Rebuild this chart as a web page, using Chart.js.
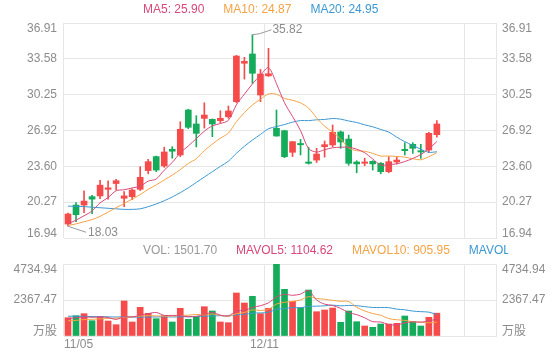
<!DOCTYPE html>
<html>
<head>
<meta charset="utf-8">
<script src="https://cdn.jsdelivr.net/npm/chart.js@4.4.1/dist/chart.umd.min.js"></script>
<style>
  html, body { margin: 0; padding: 0; background: #fff; }
  #wrap { position: relative; width: 560px; height: 360px; }
  #kline { position: absolute; left: 0; top: 0; }
  #vol { position: absolute; left: 0; top: 245px; }
</style>
</head>
<body>
<div id="wrap">
  <canvas id="kline" width="560" height="245"></canvas>
  <canvas id="vol" width="560" height="115"></canvas>
</div>
<script>
// 日线数据
const dates = ['11/05','11/06','11/07','11/08','11/09','11/12','11/13','11/14','11/15','11/16',
  '11/19','11/20','11/21','11/22','11/23','11/26','11/27','11/28','11/29','11/30',
  '12/03','12/04','12/05','12/06','12/07','12/11','12/12','12/13','12/14','12/17',
  '12/18','12/19','12/20','12/21','12/24','12/25','12/26','12/27','12/28','01/02',
  '01/03','01/04','01/07','01/08','01/09','01/10','01/11'];
const emptySlots = 7;
const shownLabels = ['11/05', '12/11'];

const opens  = [18.24, 20.00, 20.00, 20.78, 20.85, 21.46, 22.00, 20.63, 20.78, 21.46,
  23.20, 24.50, 23.63, 25.18, 24.65, 28.83, 27.53, 28.05, 27.96, 27.84,
  28.20, 29.60, 33.17, 34.03, 30.22, 32.00, 27.13, 26.91, 24.90, 25.72,
  24.00, 24.18, 25.42, 25.58, 26.79, 26.13, 24.00, 23.88, 24.06, 23.88,
  23.10, 24.00, 25.18, 25.64, 25.05, 25.11, 26.54];
const closes = [19.17, 19.10, 20.37, 20.55, 21.85, 21.60, 22.26, 20.85, 21.40, 22.58,
  24.03, 23.25, 24.93, 25.00, 27.04, 27.22, 26.66, 28.36, 27.53, 28.06,
  28.74, 33.84, 33.35, 32.24, 32.17, 32.20, 26.41, 24.49, 25.89, 25.60,
  23.88, 24.74, 25.61, 26.76, 25.86, 23.88, 23.82, 24.00, 23.82, 23.10,
  24.03, 24.18, 25.05, 25.27, 24.93, 26.66, 27.53];
const highs  = [19.25, 20.22, 21.33, 20.90, 22.30, 22.26, 22.40, 21.25, 21.50, 23.56,
  24.25, 24.55, 25.37, 25.42, 27.74, 28.90, 28.30, 29.50, 28.00, 28.76,
  29.20, 33.90, 33.72, 35.82, 32.60, 34.56, 28.83, 26.95, 25.90, 26.10,
  25.36, 25.27, 25.95, 27.44, 26.88, 26.50, 24.12, 24.35, 24.12, 23.95,
  24.49, 24.49, 25.79, 25.79, 25.64, 26.75, 27.84];
const lows   = [18.03, 18.45, 19.30, 19.20, 20.60, 20.55, 21.40, 19.85, 20.50, 21.35,
  22.90, 23.10, 23.50, 24.35, 24.50, 27.10, 25.40, 27.15, 26.35, 27.65,
  28.06, 29.50, 31.70, 31.30, 29.60, 31.95, 26.40, 24.40, 24.50, 24.65,
  23.80, 23.95, 24.45, 25.42, 25.27, 23.70, 23.00, 23.66, 23.25, 22.90,
  23.00, 23.82, 24.65, 24.80, 24.34, 24.87, 26.30];

const ma5  = [18.25, 18.60, 19.00, 19.45, 20.21, 20.69, 21.33, 21.42, 21.59, 21.74,
  22.22, 22.42, 23.24, 23.96, 24.85, 25.49, 26.17, 26.86, 27.36, 27.57,
  27.87, 29.31, 30.30, 31.25, 32.07, 32.76, 31.27, 29.50, 28.23, 26.92,
  25.25, 24.92, 25.14, 25.32, 25.37, 25.37, 25.19, 24.86, 24.28, 23.72,
  23.75, 23.83, 24.04, 24.33, 24.69, 25.22, 25.90];
const ma10 = [18.10, 18.25, 18.45, 18.65, 18.95, 19.35, 19.75, 20.15, 20.55, 20.97,
  21.46, 21.87, 22.33, 22.78, 23.29, 23.86, 24.30, 25.05, 25.66, 26.21,
  26.68, 27.74, 28.58, 29.30, 29.82, 30.32, 30.29, 29.90, 29.74, 29.49,
  29.01, 28.10, 27.32, 26.78, 26.14, 25.31, 25.05, 25.00, 24.80, 24.55,
  24.56, 24.51, 24.45, 24.30, 24.21, 24.49, 24.87];
const ma20 = [19.90, 19.88, 19.85, 19.80, 19.75, 19.70, 19.65, 19.60, 19.60, 19.65,
  19.85, 20.10, 20.40, 20.75, 21.15, 21.60, 22.10, 22.60, 23.10, 23.59,
  24.07, 24.81, 25.46, 26.04, 26.56, 27.09, 27.29, 27.48, 27.70, 27.85,
  27.84, 27.92, 27.95, 28.04, 27.98, 27.81, 27.67, 27.45, 27.27, 27.02,
  26.78, 26.30, 25.89, 25.54, 25.18, 24.90, 24.95];

const volumes = [1203, 1335, 1467, 1006, 1269, 986, 743, 2302, 921, 1887,
  1493, 1138, 1335, 921, 1822, 1098, 1269, 1927, 1644, 921,
  875, 2828, 2170, 2611, 1470, 1822, 4734.94, 3071, 2282, 1861,
  3025, 1598, 1710, 1841, 901, 1644, 940, 658, 572, 789,
  789, 835, 1315, 940, 658, 1230, 1501.70];
const mavol5  = [1150, 1200, 1250, 1230, 1256, 1213, 1094, 1261, 1244, 1368,
  1469, 1548, 1355, 1355, 1342, 1263, 1289, 1407, 1552, 1372,
  1327, 1639, 1688, 1881, 1991, 2180, 2562, 2742, 2676, 2754,
  2995, 2367, 2095, 2007, 1815, 1539, 1407, 1197, 943, 921,
  750, 729, 860, 934, 907, 996, 1104.62];
const mavol10 = [1000, 1030, 1080, 1100, 1130, 1150, 1170, 1230, 1260, 1312,
  1341, 1321, 1308, 1300, 1355, 1366, 1419, 1381, 1453, 1357,
  1295, 1464, 1548, 1717, 1681, 1754, 2100, 2215, 2279, 2373,
  2588, 2465, 2419, 2342, 2285, 2267, 1887, 1646, 1475, 1368,
  1144, 1068, 1028, 938, 914, 873, 905.95];
const mavol20 = [1300, 1300, 1290, 1280, 1270, 1260, 1250, 1260, 1250, 1240,
  1250, 1250, 1260, 1250, 1260, 1270, 1290, 1300, 1320, 1334,
  1318, 1393, 1428, 1508, 1518, 1560, 1759, 1798, 1866, 1865,
  1941, 1964, 1983, 2029, 1983, 2010, 1994, 1930, 1877, 1870,
  1866, 1766, 1723, 1640, 1599, 1570, 1408];

const priceTicks = [16.94, 20.27, 23.60, 26.92, 30.25, 33.58, 36.91];
const volTicks = [0, 2367.47, 4734.94];

const RED = '#f54b4b';
const GREEN = '#14ab5b';
const C_MA5 = '#d9487a';
const C_MA10 = '#f5a345';
const C_MA20 = '#3c98d2';
const GRID = '#e6e6e6';
const TXT = '#8c8c8c';
const FONT = '12px "Liberation Sans", Arial, "Noto Sans CJK SC", sans-serif';

const labels = dates.concat(new Array(emptySlots).fill(''));
const last = a => a[a.length - 1];
const candleColor = ctx => closes[ctx.dataIndex] >= opens[ctx.dataIndex] ? RED : GREEN;

// 竖向网格只画 0、25、50 和右边框
const vGrid = ctx => {
  const i = ctx.index;
  return (i === undefined || i === 0 || i === 25 || i === 50) ? GRID : 'rgba(0,0,0,0)';
};

function drawLegend(chart, items, y, clipRight) {
  const ctx = chart.ctx;
  ctx.save();
  if (clipRight) { ctx.beginPath(); ctx.rect(0, 0, clipRight, chart.height); ctx.clip(); }
  ctx.font = FONT;
  ctx.textBaseline = 'middle';
  ctx.textAlign = 'left';
  let x = 143;
  items.forEach(it => {
    ctx.fillStyle = it.color;
    ctx.fillText(it.text, x, y);
    x += ctx.measureText(it.text).width + 19;
  });
  ctx.restore();
}

function drawYLabels(chart, values, fmt) {
  const { ctx, chartArea } = chart;
  const ys = chart.scales.y;
  ctx.save();
  ctx.font = FONT;
  ctx.fillStyle = TXT;
  ctx.textBaseline = 'middle';
  values.forEach(v => {
    let y = ys.getPixelForValue(v);
    y = Math.min(chartArea.bottom - 4, Math.max(chartArea.top + 6, y));
    const t = fmt(v);
    ctx.textAlign = 'right';
    ctx.fillText(t, chartArea.left - 7, y);
    ctx.textAlign = 'left';
    ctx.fillText(t, chartArea.right + 5, y);
  });
  ctx.restore();
}

const klinePlugin = {
  id: 'klineDeco',
  afterDatasetsDraw(chart) {
    const ctx = chart.ctx;
    const xs = chart.scales.x, ys = chart.scales.y;
    const hi = Math.max(...highs), hiI = highs.indexOf(hi);
    const lo = Math.min(...lows), loI = lows.indexOf(lo);
    ctx.save();
    ctx.strokeStyle = '#9a9a9a';
    ctx.lineWidth = 1;
    ctx.font = FONT;
    ctx.fillStyle = TXT;
    ctx.textBaseline = 'middle';
    ctx.textAlign = 'left';
    let px = xs.getPixelForValue(hiI), py = ys.getPixelForValue(hi);
    ctx.beginPath();
    ctx.moveTo(px, py); ctx.lineTo(px + 7, py - 1); ctx.lineTo(px + 19, py - 5);
    ctx.stroke();
    ctx.fillText(hi.toFixed(2), px + 20, py - 5);
    px = xs.getPixelForValue(loI); py = ys.getPixelForValue(lo);
    ctx.beginPath();
    ctx.moveTo(px, py); ctx.lineTo(px + 6, py + 2); ctx.lineTo(px + 18, py + 6);
    ctx.stroke();
    ctx.fillText(lo.toFixed(2), px + 20, py + 6);
    ctx.restore();
  },
  afterDraw(chart) {
    drawYLabels(chart, priceTicks, v => v.toFixed(2));
    drawLegend(chart, [
      { text: 'MA5: ' + last(ma5).toFixed(2), color: C_MA5 },
      { text: 'MA10: ' + last(ma10).toFixed(2), color: C_MA10 },
      { text: 'MA20: ' + last(ma20).toFixed(2), color: C_MA20 }
    ], 10);
  }
};

const volPlugin = {
  id: 'volDeco',
  afterDraw(chart) {
    drawYLabels(chart, volTicks, v => v === 0 ? '万股' : v.toFixed(2));
    drawLegend(chart, [
      { text: 'VOL: ' + last(volumes).toFixed(2), color: '#999999' },
      { text: 'MAVOL5: ' + last(mavol5).toFixed(2), color: C_MA5 },
      { text: 'MAVOL10: ' + last(mavol10).toFixed(2), color: C_MA10 },
      { text: 'MAVOL20: ' + last(mavol20).toFixed(2), color: C_MA20 }
    ], 6, 508);
    const { ctx, chartArea } = chart;
    const xs = chart.scales.x;
    const half = (xs.getPixelForValue(1) - xs.getPixelForValue(0)) / 2;
    ctx.save();
    ctx.font = FONT;
    ctx.fillStyle = TXT;
    ctx.textBaseline = 'middle';
    shownLabels.forEach(lb => {
      const i = dates.indexOf(lb);
      if (i === 0) {
        ctx.textAlign = 'left';
        ctx.fillText(lb, chartArea.left, chartArea.bottom + 9);
      } else {
        ctx.textAlign = 'center';
        ctx.fillText(lb, xs.getPixelForValue(i) - half, chartArea.bottom + 9);
      }
    });
    ctx.restore();
  }
};

const lineDs = (label, data, color) => ({
  type: 'line', label, data, borderColor: color, borderWidth: 1,
  pointRadius: 0, tension: 0.3, fill: false
});

const xScale = {
  type: 'category',
  offset: true,
  ticks: { display: false },
  grid: { offset: true, drawTicks: false, color: vGrid },
  border: { display: false },
  afterFit: s => { s.height = 0; }
};

const commonOpts = {
  responsive: false,
  animation: false,
  events: [],
  plugins: { legend: { display: false }, tooltip: { enabled: false } }
};

new Chart(document.getElementById('kline'), {
  type: 'bar',
  data: {
    labels,
    datasets: [
      lineDs('MA5', ma5, C_MA5),
      lineDs('MA10', ma10, C_MA10),
      lineDs('MA20', ma20, C_MA20),
      {
        label: 'body', data: opens.map((o, i) => [o, closes[i]]),
        backgroundColor: candleColor, barThickness: 6, grouped: false, minBarLength: 1
      },
      {
        label: 'wick', data: lows.map((l, i) => [l, highs[i]]),
        backgroundColor: candleColor, barThickness: 1, grouped: false
      }
    ]
  },
  options: {
    ...commonOpts,
    layout: { padding: { top: 23, right: 63, bottom: 7, left: 0 } },
    scales: {
      x: xScale,
      y: {
        min: priceTicks[0], max: last(priceTicks),
        afterBuildTicks: s => { s.ticks = priceTicks.map(v => ({ value: v })); },
        ticks: { display: false },
        grid: { color: GRID, drawTicks: false },
        border: { display: false },
        afterFit: s => { s.width = 64; }
      }
    }
  },
  plugins: [klinePlugin]
});

new Chart(document.getElementById('vol'), {
  type: 'bar',
  data: {
    labels,
    datasets: [
      lineDs('MAVOL5', mavol5, C_MA5),
      lineDs('MAVOL10', mavol10, C_MA10),
      lineDs('MAVOL20', mavol20, C_MA20),
      { label: 'VOL', data: volumes, backgroundColor: candleColor, barThickness: 6 }
    ]
  },
  options: {
    ...commonOpts,
    layout: { padding: { top: 19, right: 63, bottom: 24, left: 0 } },
    scales: {
      x: xScale,
      y: {
        min: volTicks[0], max: last(volTicks),
        afterBuildTicks: s => { s.ticks = volTicks.map(v => ({ value: v })); },
        ticks: { display: false },
        grid: { color: GRID, drawTicks: false },
        border: { display: false },
        afterFit: s => { s.width = 64; }
      }
    }
  },
  plugins: [volPlugin]
});
</script>
</body>
</html>
